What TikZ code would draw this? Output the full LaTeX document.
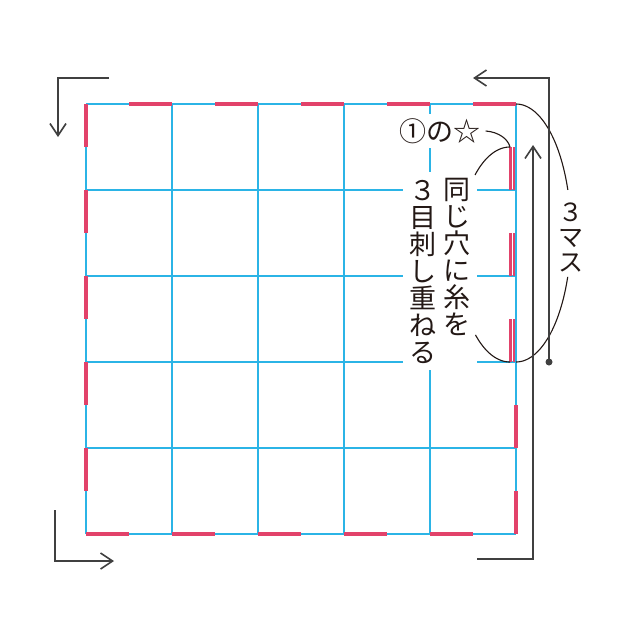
\documentclass[tikz,border=0pt]{standalone}
\usepackage{fontspec}
\newfontfamily\jp{Noto Sans CJK JP}
\usetikzlibrary{arrows.meta}
\definecolor{gridblue}{HTML}{2BB4E6}
\definecolor{stitchred}{HTML}{E2426A}
\definecolor{arrowgray}{HTML}{404040}
\definecolor{inkblack}{HTML}{231815}
\begin{document}
\begin{tikzpicture}[x=1pt,y=-1pt,
  gridline/.style={gridblue, line width=1.4pt},
  stitch/.style={stitchred, line width=3.6pt},
  thinstitch/.style={stitchred, line width=2.2pt},
  guide/.style={arrowgray, line width=1.6pt},
  barb/.style={-{Straight Barb[length=12pt,width=16pt]}},
  leader/.style={inkblack, line width=1.1pt},
  jplabel/.style={font=\jp\fontsize{27}{27}\selectfont, text=inkblack, inner sep=0pt, align=center}]
\useasboundingbox (0,0) rectangle (640,640);
\fill[white] (0,0) rectangle (640,640);
% grid
\foreach \i in {0,...,5} {
  \draw[gridline] ({86+86*\i},104) -- ({86+86*\i},534);
  \draw[gridline] (86,{104+86*\i}) -- (516,{104+86*\i});
}
% stitches
\foreach \i in {0,...,4} {
  \draw[stitch] ({129+86*\i},104) -- ({172+86*\i},104);
  \draw[stitch] ({86+86*\i},534) -- ({129+86*\i},534);
  \draw[stitch] (86,{104+86*\i}) -- (86,{147+86*\i});
}
\draw[stitch] (516,405) -- (516,448);
\draw[stitch] (516,491) -- (516,534);
\foreach \i in {0,1,2} {
  \draw[thinstitch] (510.4,{147+86*\i}) -- (510.4,{190+86*\i});
  \draw[thinstitch] (514.2,{147+86*\i}) -- (514.2,{190+86*\i});
}
% white knockouts behind text
\fill[white] (403,172) rectangle (477,370);
\fill[white] (395,114) rectangle (488,148);
% texts
\node[jplabel] (col1) at (423,272) {３\\目\\刺\\し\\重\\ね\\る};
\node[jplabel] (col2) at (457,257) {同\\じ\\穴\\に\\糸\\を};
\node[jplabel] (star) at (440,131) {①の☆};
\node[jplabel, font=\jp\fontsize{25}{25}\selectfont] (masu) at (571,237) {３\\マ\\ス};
% coordinates
\coordinate (hole1) at (510,147);
\coordinate (hole2) at (510,362);
\coordinate (corner) at (516,104);
% leader from star
\draw[leader] ([xshift=5pt]star.east) .. controls +(13,1) and +(-2,-8) .. (hole1);
% inner bracket
\draw[leader] plot[domain=-90:-47.7, samples=40, variable=\t] ({510-52*cos(\t)},{254.5+107.5*sin(\t)});
\draw[leader] plot[domain=48.4:90, samples=40, variable=\t] ({510-52*cos(\t)},{254.5+107.5*sin(\t)});
% 3 masu bracket
\draw[leader] plot[domain=-90:-19.5, samples=40, variable=\t] ({516+55*cos(\t)},{233+129*sin(\t)});
\draw[leader] plot[domain=19.9:90, samples=40, variable=\t] ({516+55*cos(\t)},{233+129*sin(\t)});
% guide arrows
\coordinate (tlA) at (109,78);
\coordinate (tlB) at (58,78);
\coordinate (tlC) at (58,137);
\draw[guide, barb] (tlA) -- (tlB) -- (tlC);
\coordinate (blA) at (55,510);
\coordinate (blB) at (55,561);
\coordinate (blC) at (114,561);
\draw[guide, barb] (blA) -- (blB) -- (blC);
\coordinate (brA) at (477,559);
\coordinate (brB) at (533,559);
\coordinate (brC) at (533,145);
\draw[guide, barb] (brA) -- (brB) -- (brC);
\node[circle, fill=arrowgray, inner sep=0pt, minimum size=7pt] (dot) at (549,362) {};
\coordinate (trB) at (549,78);
\coordinate (trC) at (473,78);
\draw[guide, barb] (dot.center) -- (trB) -- (trC);
\end{tikzpicture}
\end{document}
